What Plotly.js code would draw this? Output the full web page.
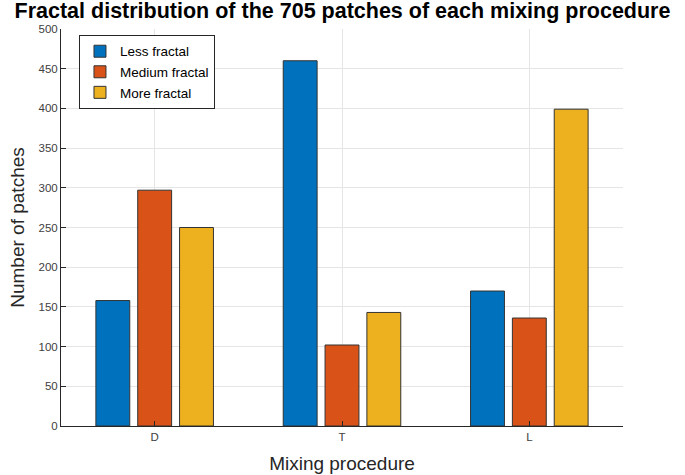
<!DOCTYPE html>
<html>
<head>
<meta charset="utf-8">
<script src="https://cdn.plot.ly/plotly-3.0.1.min.js"></script>
<style>
  html, body { margin: 0; padding: 0; background: #fff; }
  #chart { width: 685px; height: 475px; }
</style>
</head>
<body>
<div id="chart"></div>
<script>
var procedures = ['D', 'T', 'L'];
var lessFractal = [158, 460, 170];
var mediumFractal = [297, 102, 136];
var moreFractal = [250, 143, 399];
var yTicks = [0, 50, 100, 150, 200, 250, 300, 350, 400, 450, 500];

var edge = {color: '#333333', width: 1};

var trace1 = {
  x: procedures,
  y: lessFractal,
  name: 'Less fractal',
  type: 'bar',
  marker: {color: '#0072BD', line: edge}
};
var trace2 = {
  x: procedures,
  y: mediumFractal,
  name: 'Medium fractal',
  type: 'bar',
  marker: {color: '#D95319', line: edge}
};
var trace3 = {
  x: procedures,
  y: moreFractal,
  name: 'More fractal',
  type: 'bar',
  marker: {color: '#EDB120', line: edge}
};

var data = [trace1, trace2, trace3];

var layout = {
  width: 685,
  height: 475,
  margin: {l: 61, r: 62, t: 29, b: 49},
  paper_bgcolor: '#ffffff',
  plot_bgcolor: '#ffffff',
  font: {family: 'Liberation Sans, Arial, sans-serif', color: '#262626'},
  barmode: 'group',
  bargap: 0.33,
  bargroupgap: 0.19,
  title: {
    text: '<b>Fractal distribution of the 705 patches of each mixing procedure</b>',
    font: {size: 21.5, color: '#000000', family: 'Liberation Sans, Arial, sans-serif'},
    x: 0.5,
    xanchor: 'center',
    y: 0.979,
    yanchor: 'middle'
  },
  xaxis: {
    type: 'category',
    range: [-0.5, 2.5],
    showgrid: true,
    gridcolor: '#e5e5e5',
    showline: true,
    linecolor: '#262626',
    linewidth: 1,
    ticks: 'inside',
    ticklen: 5,
    tickcolor: '#262626',
    tickfont: {size: 11.5, color: '#404040'},
    zeroline: false,
    title: {text: 'Mixing procedure', font: {size: 19, color: '#262626'}, standoff: 14}
  },
  yaxis: {
    range: [0, 500],
    tickvals: yTicks,
    showgrid: true,
    gridcolor: '#e5e5e5',
    showline: true,
    linecolor: '#262626',
    linewidth: 1,
    ticks: 'inside',
    ticklen: 5,
    tickcolor: '#262626',
    tickfont: {size: 11.5, color: '#404040'},
    zeroline: false,
    title: {text: 'Number of patches', font: {size: 19, color: '#262626'}, standoff: 8}
  },
  legend: {
    x: 0.032,
    y: 0.985,
    xanchor: 'left',
    yanchor: 'top',
    bgcolor: '#ffffff',
    bordercolor: '#262626',
    borderwidth: 1,
    font: {size: 13.5, color: '#000000'},
    tracegroupgap: 0
  },
  showlegend: true
};

Plotly.newPlot('chart', data, layout, {displayModeBar: false});
</script>
</body>
</html>
